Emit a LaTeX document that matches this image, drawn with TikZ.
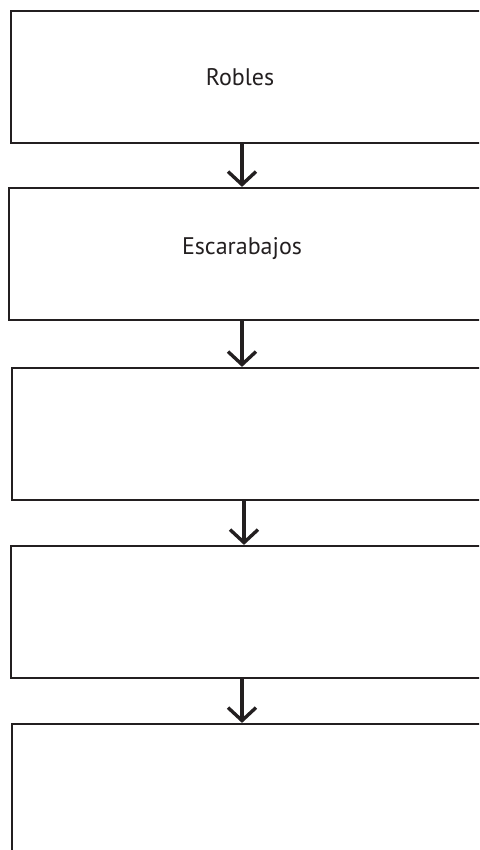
\documentclass[tikz,border=0pt]{standalone}
\usepackage{fontspec}
\setmainfont{PT Sans}
\usetikzlibrary{arrows.meta}
\definecolor{ink}{HTML}{231F20}
\begin{document}
\begin{tikzpicture}[x=1pt,y=-1pt,
  box/.style={draw=ink,line width=2.2pt,rectangle,inner sep=0pt},
  lbl/.style={text=ink,font=\fontsize{24}{28}\selectfont,inner sep=0pt},
  arr/.style={draw=ink,line width=3.4pt,-{Straight Barb[length=13pt,width=28pt,line width=3.4pt]}}]
\useasboundingbox (0,0) rectangle (479,850);
\clip (0,0) rectangle (479,850);
\node[box,minimum width=479pt,minimum height=132pt] (b1) at (250.5,77) {};
\node[box,minimum width=481pt,minimum height=132pt] (b2) at (249.5,254) {};
\node[box,minimum width=478pt,minimum height=132pt] (b3) at (251,434) {};
\node[box,minimum width=479pt,minimum height=132pt] (b4) at (250.5,612) {};
\node[box,minimum width=478pt,minimum height=146pt] (b5) at (251,797) {};
\node[lbl] (t1) at (240,77) {Robles};
\node[lbl] (t2) at (242,249) {Escarabajos};
\coordinate (c1) at (242,0);
\coordinate (c2) at (242,0);
\coordinate (c3) at (244,0);
\coordinate (c4) at (242,0);
\draw[arr] (b1.south -| c1) -- (b2.north -| c1);
\draw[arr] (b2.south -| c2) -- (b3.north -| c2);
\draw[arr] (b3.south -| c3) -- (b4.north -| c3);
\draw[arr] (b4.south -| c4) -- (b5.north -| c4);
\end{tikzpicture}
\end{document}
